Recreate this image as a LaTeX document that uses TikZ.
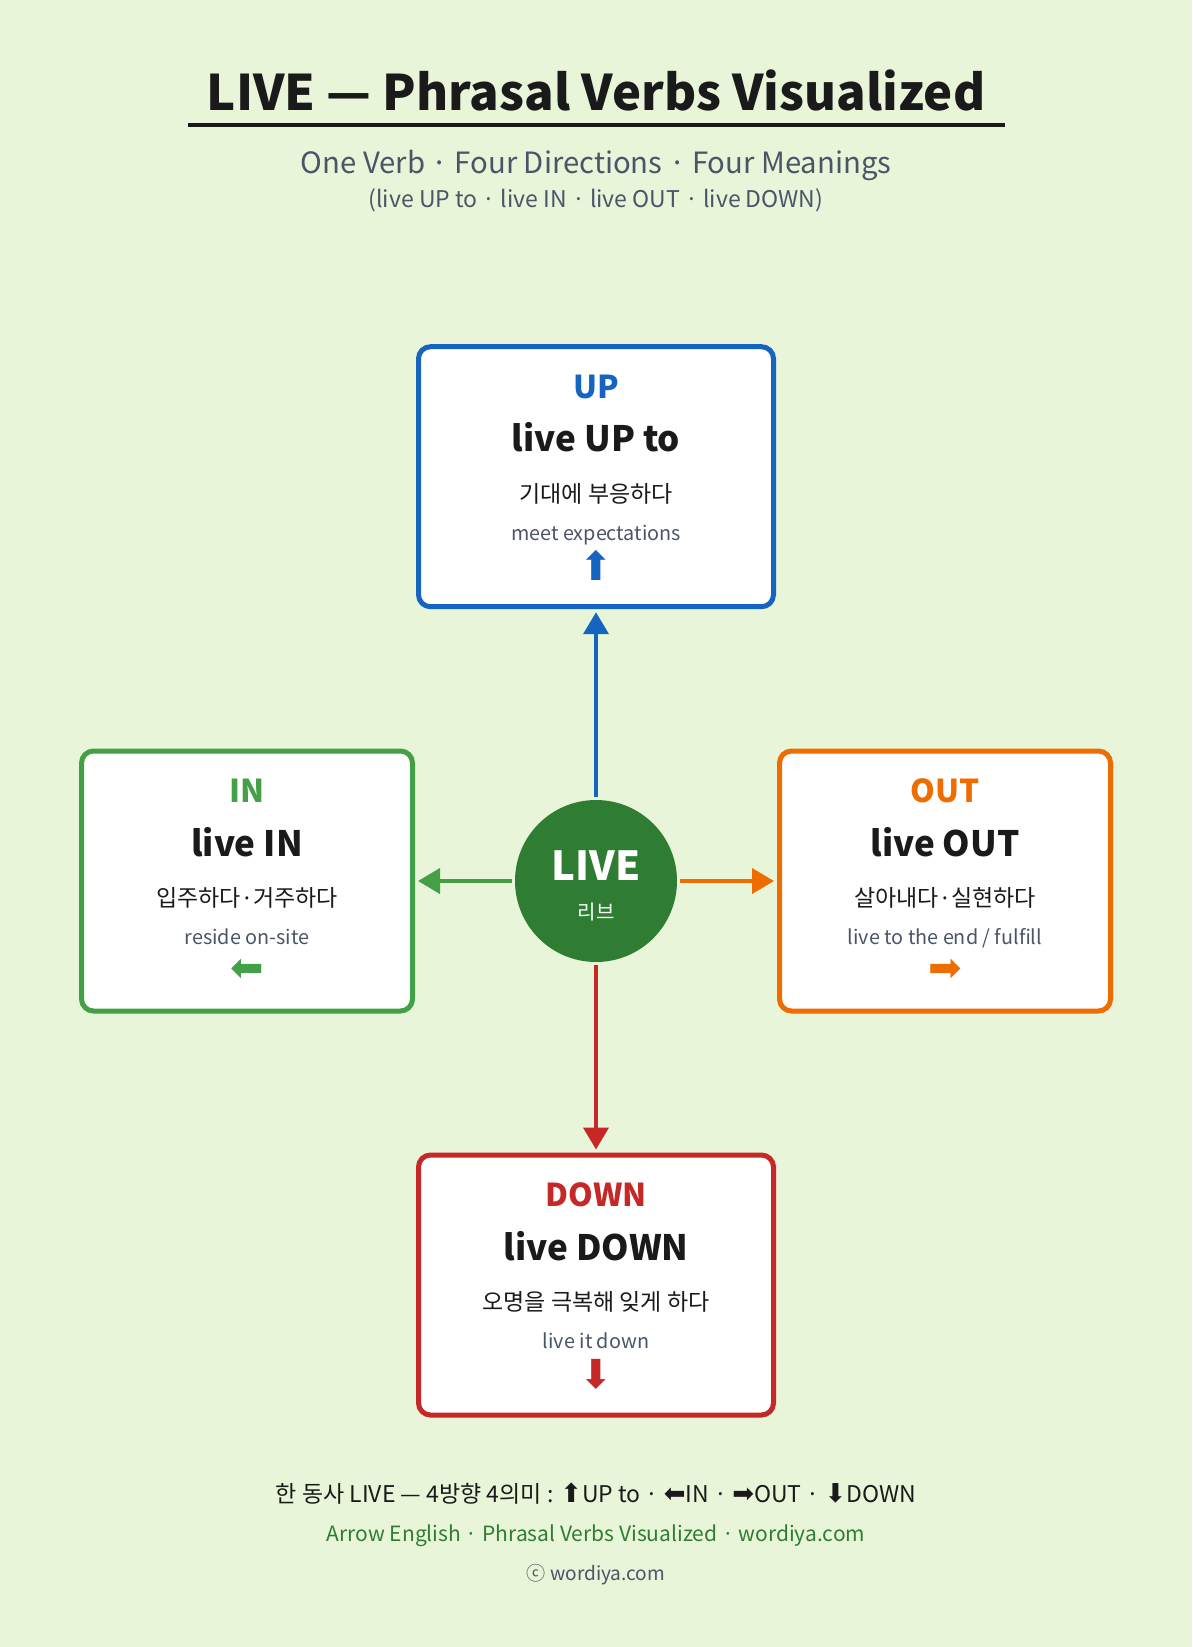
\documentclass[tikz,border=0pt]{standalone}
\usepackage{fontspec}
\setmainfont{Noto Sans CJK KR}
\newfontfamily\arrowfont{DejaVu Sans}
\newfontfamily\latinfont{Noto Sans}
\usetikzlibrary{arrows.meta}

\definecolor{bgcol}{HTML}{E8F5D8}
\definecolor{inkcol}{HTML}{1A1A1A}
\definecolor{greycol}{HTML}{4A5568}
\definecolor{upcol}{HTML}{1565C0}
\definecolor{incol}{HTML}{43A047}
\definecolor{outcol}{HTML}{EF6C00}
\definecolor{downcol}{HTML}{C62828}
\definecolor{hubcol}{HTML}{2E7D32}

\newcommand{\kdot}{\kern3pt{\latinfont ·}\kern3pt}
\newcommand{\farrow}[1]{{\fontsize{26}{26}\selectfont\arrowfont #1}}

\tikzset{
  txt/.style={inner sep=0pt, anchor=base},
  dirbox/.style={draw, line width=5pt, rounded corners=12pt, fill=white,
    minimum height=260pt, inner sep=0pt},
  widebox/.style={dirbox, minimum width=355pt},
  narrowbox/.style={dirbox, minimum width=331pt},
  lbl/.style={txt, font=\fontsize{31.5}{38}\selectfont\bfseries},
  verb/.style={txt, font=\fontsize{35}{42}\selectfont\bfseries, text=inkcol},
  ko/.style={txt, font=\fontsize{23}{28}\selectfont, text=inkcol},
  en/.style={txt, font=\fontsize{19.8}{24}\selectfont, text=greycol},
  glyph/.style={inner sep=0pt, font=\fontsize{40}{40}\selectfont\arrowfont},
  link/.style={line width=4pt, -{Triangle[length=22pt,width=25pt]},
    shorten <=3pt, shorten >=3pt},
}

\begin{document}
\begin{tikzpicture}[x=1pt,y=-1pt]
  \fill[bgcol] (0,0) rectangle (1192,1647);
  \useasboundingbox (0,0) rectangle (1192,1647);

  % heading
  \node[txt, font=\fontsize{49}{56}\selectfont\bfseries, text=inkcol] (title) at (596,110)
    {LIVE — Phrasal Verbs Visualized};
  \draw[inkcol, line width=3.3pt] (188,125) -- (1005,125);
  \node[txt, font=\fontsize{29.3}{35}\selectfont, text=greycol] (sub) at (596,173)
    {One Verb · Four Directions · Four Meanings};
  \node[txt, font=\fontsize{23}{27}\selectfont, text=greycol] (subsub) at (596,207)
    {(live UP to · live IN · live OUT · live DOWN)};

  % centre
  \node[circle, fill=hubcol, minimum size=162pt, inner sep=0pt] (hub) at (596,881) {};
  \node[txt, font=\fontsize{40}{46}\selectfont\bfseries, text=white] (hubname) at (596,880) {LIVE};
  \node[txt, font=\fontsize{20}{24}\selectfont, text=white] (hubko) at (596,919) {리브};

  % up
  \node[widebox, draw=upcol] (up) at (596,476.7) {};
  \node[lbl, text=upcol] (uplbl) at (596,398.3) {UP};
  \node[verb] (upverb) at (596,451.7) {live UP to};
  \node[ko] (upko) at (596,502) {기대에 부응하다};
  \node[en] (upen) at (596,540) {meet expectations};
  \node[glyph, text=upcol] (upsym) at (596,565.5) {⬆};

  % in
  \node[narrowbox, draw=incol] (in) at (247,881) {};
  \node[lbl, text=incol] (inlbl) at (247,802.8) {IN};
  \node[verb] (inverb) at (247,856.2) {live IN};
  \node[ko] (inko) at (247,906.5) {입주하다\kdot 거주하다};
  \node[en] (inen) at (247,944.5) {reside on-site};
  \node[glyph, text=incol] (insym) at (247,970) {⬅};

  % out
  \node[narrowbox, draw=outcol] (out) at (945,881) {};
  \node[lbl, text=outcol] (outlbl) at (945,802.8) {OUT};
  \node[verb] (outverb) at (945,856.2) {live OUT};
  \node[ko] (outko) at (945,906.5) {살아내다\kdot 실현하다};
  \node[en] (outen) at (945,944.5) {live to the end / fulfill};
  \node[glyph, text=outcol] (outsym) at (945,970) {➡};

  % down
  \node[widebox, draw=downcol] (down) at (596,1285) {};
  \node[lbl, text=downcol] (downlbl) at (596,1206.8) {DOWN};
  \node[verb] (downverb) at (596,1260.2) {live DOWN};
  \node[ko] (downko) at (596,1310.5) {오명을 극복해 잊게 하다};
  \node[en] (downen) at (596,1348.5) {live it down};
  \node[glyph, text=downcol] (downsym) at (596,1374) {⬇};

  % links
  \draw[link, upcol] (hub) -- (up);
  \draw[link, incol] (hub) -- (in);
  \draw[link, outcol] (hub) -- (out);
  \draw[link, downcol] (hub) -- (down);

  % footer
  \node[txt, font=\fontsize{23}{28}\selectfont, text=inkcol] (foot) at (596,1502)
    {한 동사 LIVE — 4방향 4의미 : \farrow{⬆}UP to · \farrow{⬅}IN · \farrow{➡}OUT · \farrow{⬇}DOWN};
  \node[txt, font=\fontsize{21}{26}\selectfont, text=hubcol] (brand) at (596,1541)
    {Arrow English · Phrasal Verbs Visualized · wordiya.com};
  \node[txt, font=\fontsize{19.1}{24}\selectfont, text=greycol] (copy) at (596,1580)
    {ⓒ wordiya.com};
\end{tikzpicture}
\end{document}
